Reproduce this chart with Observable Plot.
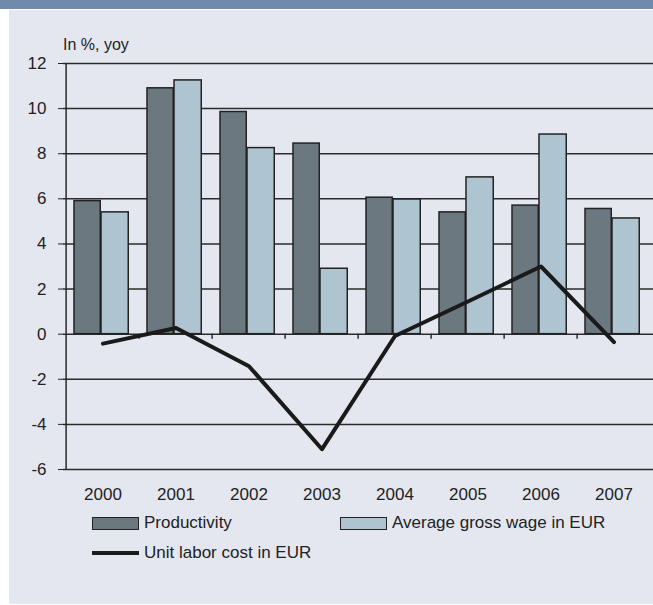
<!DOCTYPE html>
<html><head><meta charset="utf-8">
<script src="https://cdn.jsdelivr.net/npm/d3@7"></script>
<script src="https://cdn.jsdelivr.net/npm/@observablehq/plot@0.6"></script>
<style>
html,body{margin:0;padding:0;background:#fff;overflow:hidden;width:653px;height:605px;font-family:"Liberation Sans",Arial,sans-serif;}
#header{position:absolute;left:0;top:0;width:653px;height:9px;background:#7189aa;overflow:hidden;}
#panel{position:absolute;left:9px;top:10px;width:644px;height:594px;background:#e4e7f0;}
#chart{position:absolute;left:0;top:0;}
#unit{position:absolute;left:54px;top:26px;font-size:16px;line-height:18px;color:#222;}
.leg{position:absolute;font-size:17px;line-height:20px;color:#222;display:flex;align-items:center;white-space:nowrap;}
.sw{width:47px;height:13px;border:1.5px solid #222;box-sizing:border-box;margin-right:5px;}
.ln{width:47px;height:4px;background:#1a1a1a;margin-right:5px;}
</style>
</head><body>
<div id="header"></div>
<div id="panel">
  <div id="chart"></div>
  <div id="unit">In %, yoy</div>
  <div id="legend"></div>
</div>
<script>
const years = ["2000","2001","2002","2003","2004","2005","2006","2007"];
const productivity = [5.9, 10.9, 9.85, 8.45, 6.05, 5.4, 5.7, 5.55];
const averageWage = [5.4, 11.25, 8.25, 2.9, 5.97, 6.95, 8.85, 5.13];
const unitLaborCost = [-0.42, 0.27, -1.42, -5.1, -0.08, 1.45, 3.0, -0.35];
const yTicks = [-6, -4, -2, 0, 2, 4, 6, 8, 10, 12];
const seriesNames = ["Productivity", "Average gross wage in EUR", "Unit labor cost in EUR"];
const colors = {dark: "#6c7880", light: "#afc4d1", line: "#1a1a1a", grid: "#2b2b2b"};

const rows = years.map((year, i) => ({year, productivity: productivity[i], wage: averageWage[i], ulc: unitLaborCost[i]}));

const W = 644, H = 500, mL = 54, mR = 0;
const bw = (W - mL - mR) / years.length;

const chart = Plot.plot({
  width: W, height: H,
  marginLeft: mL, marginRight: mR, marginTop: 53, marginBottom: 41,
  style: {background: "none", fontFamily: '"Liberation Sans", Arial, sans-serif', fontSize: "17px", color: "#222", overflow: "visible"},
  x: {type: "band", domain: years, padding: 0, label: null, tickSize: 0, tickPadding: 18},
  y: {domain: [-6, 12], ticks: yTicks, label: null, tickSize: 5, tickPadding: 12, tickFormat: d => String(d)},
  marks: [
    Plot.ruleY(yTicks, {stroke: colors.grid, strokeWidth: 1.5}),
    Plot.barY(rows, {x: "year", y: "productivity", fill: colors.dark, stroke: "#222", strokeWidth: 1.5, insetLeft: 8, insetRight: bw - 35}),
    Plot.barY(rows, {x: "year", y: "wage", fill: colors.light, stroke: "#222", strokeWidth: 1.5, insetLeft: 35, insetRight: bw - 63}),
    Plot.ruleX([years[0]], {x: d => d, dx: -bw / 2, stroke: colors.grid, strokeWidth: 1.5}),
    Plot.ruleX(years.slice(1), {x: d => d, y1: 0, y2: 0, dx: -bw / 2, insetBottom: -5, stroke: colors.grid, strokeWidth: 1.5}),
    Plot.lineY(rows, {x: "year", y: "ulc", stroke: colors.line, strokeWidth: 4})
  ]
});
document.getElementById("chart").appendChild(chart);

const legend = document.getElementById("legend");
const items = [
  {label: seriesNames[0], cls: "sw", color: colors.dark, left: 83, top: 503},
  {label: seriesNames[1], cls: "sw", color: colors.light, left: 331, top: 503},
  {label: seriesNames[2], cls: "ln", color: colors.line, left: 83, top: 533}
];
for (const it of items) {
  const d = document.createElement("div");
  d.className = "leg";
  d.style.left = it.left + "px";
  d.style.top = it.top + "px";
  const s = document.createElement("div");
  s.className = it.cls;
  s.style.background = it.color;
  d.appendChild(s);
  d.appendChild(document.createTextNode(it.label));
  legend.appendChild(d);
}
</script>
</body></html>
